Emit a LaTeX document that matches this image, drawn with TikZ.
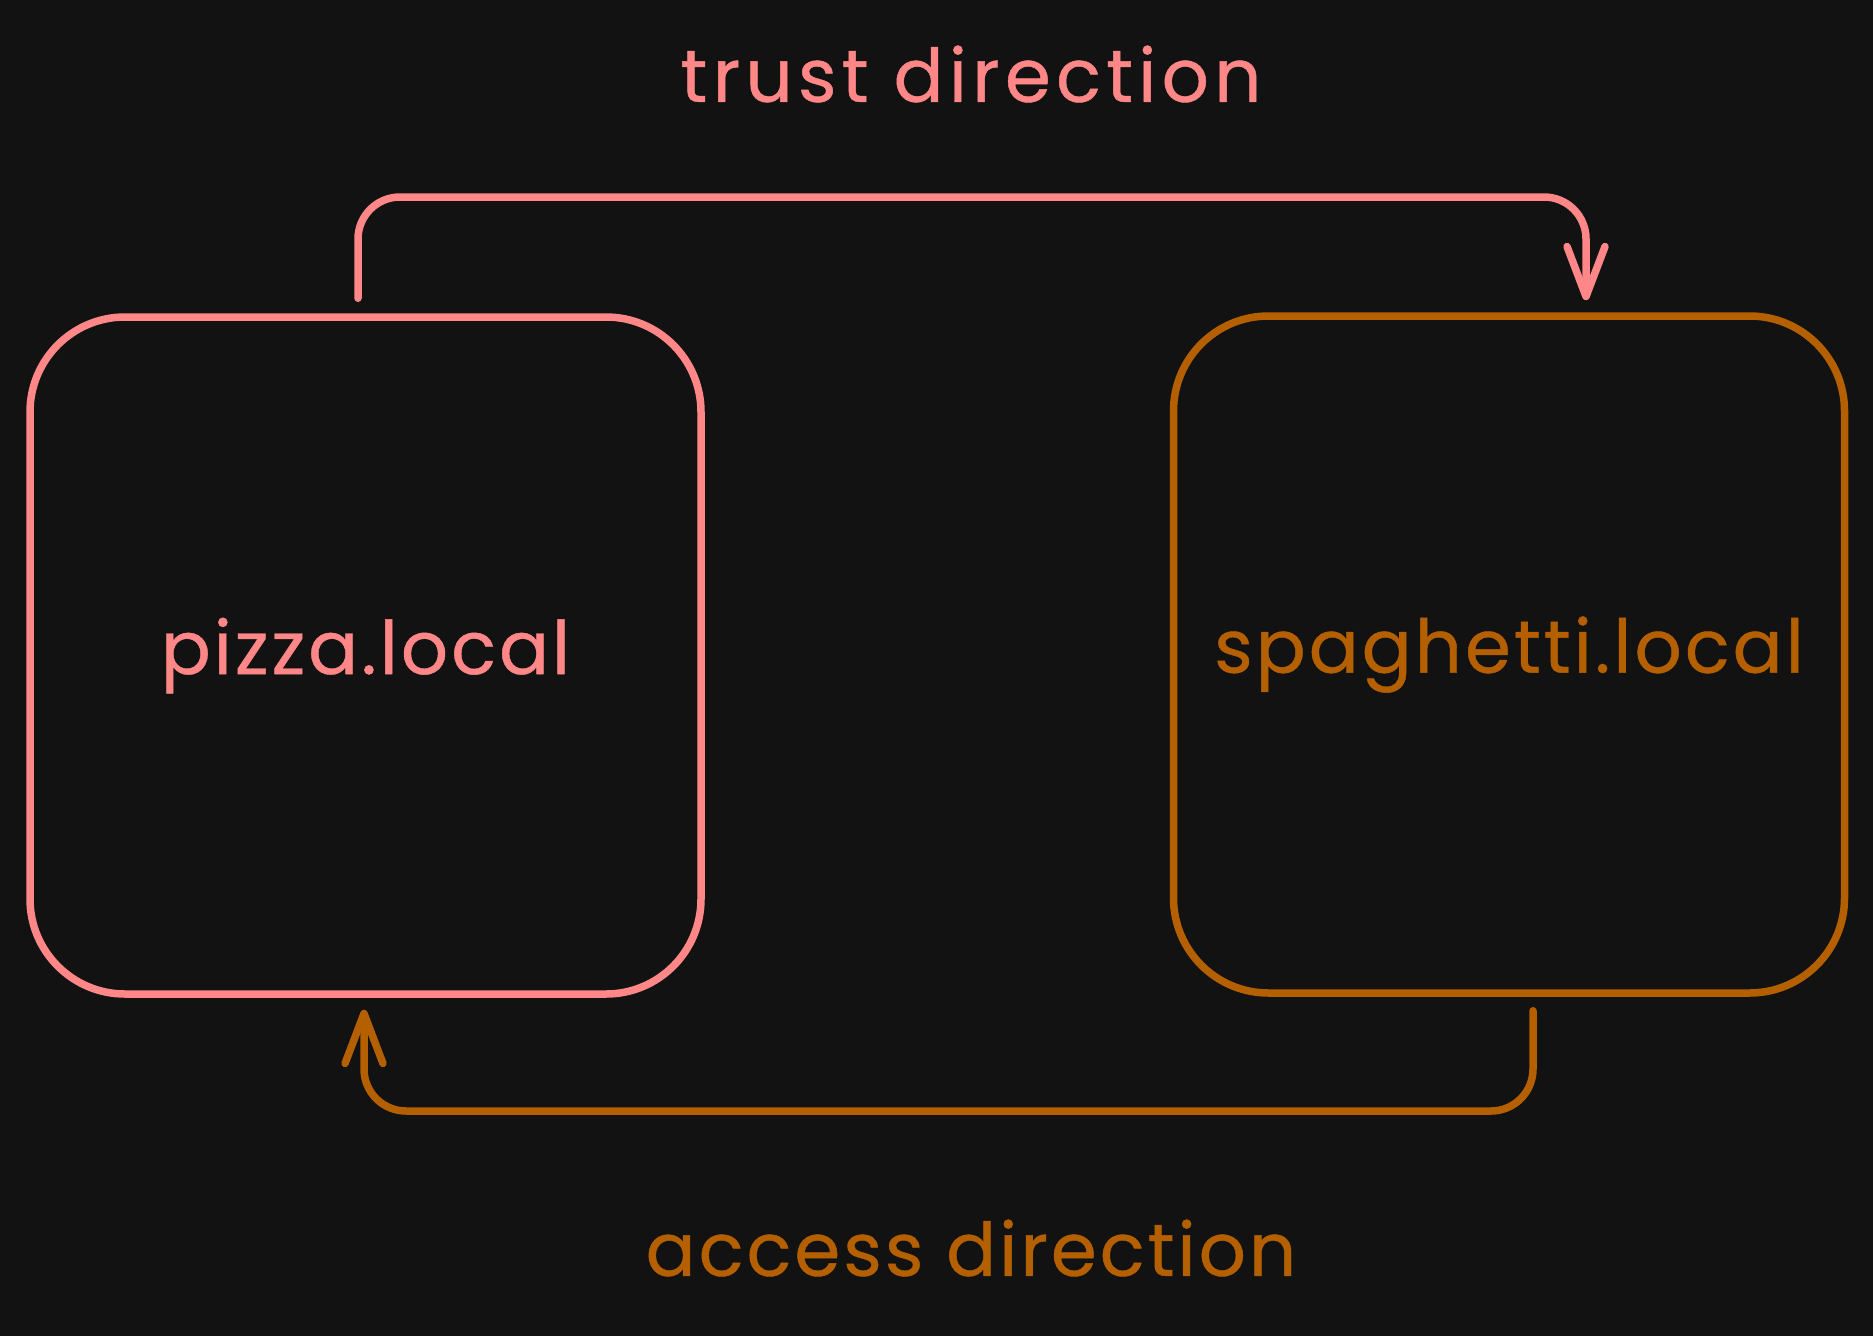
\documentclass[tikz,border=0pt]{standalone}
\usepackage{fontspec}
\setmainfont{Poppins}[LetterSpace=4,FakeBold=0.6]
\usetikzlibrary{arrows.meta,calc,positioning}
\definecolor{bg}{HTML}{121212}
\definecolor{salmon}{HTML}{FF8787}
\definecolor{rust}{HTML}{B45F00}

\begin{document}
\begin{tikzpicture}[x=1pt,y=-1pt,line width=7.5pt,line cap=round,line join=round,
  >={Straight Barb[length=50pt,width=38pt,line width=7.5pt,round]},
  host/.style={draw,rounded corners=95pt,minimum width=671pt,minimum height=677pt,
    inner sep=0pt,font=\fontsize{74}{80}\selectfont},
  lbl/.style={font=\fontsize{74}{80}\selectfont}]

\fill[bg] (0,0) rectangle (1873,1336);
\useasboundingbox (0,0) rectangle (1873,1336);

\node[host,salmon,text=salmon] (pizza) at (365.5,655.5) {pizza.local};
\node[host,rust,text=rust] (spaghetti) at (1509,654.5) {spaghetti.local};

\node[lbl,text=salmon] (trustlbl) at (971,74) {\addfontfeatures{LetterSpace=7}trust direction};
\node[lbl,text=rust] (accesslbl) at (971,1248) {access direction};

% trust: pizza -> spaghetti, over the top
\coordinate (t1) at ([xshift=-7.5pt,yshift=15pt]pizza.north);
\coordinate (t2) at ([xshift=77pt,yshift=12pt]spaghetti.north);
\draw[->,salmon,rounded corners=42pt] (t1) -- (t1 |- 0,197) -- (t2 |- 0,197) -- (t2);

% access: spaghetti -> pizza, along the bottom
\coordinate (a1) at ([xshift=24pt,yshift=-14pt]spaghetti.south);
\coordinate (a2) at ([xshift=-1.5pt,yshift=-12pt]pizza.south);
\draw[->,rust,rounded corners=42pt] (a1) -- (a1 |- 0,1111) -- (a2 |- 0,1111) -- (a2);

\end{tikzpicture}
\end{document}
